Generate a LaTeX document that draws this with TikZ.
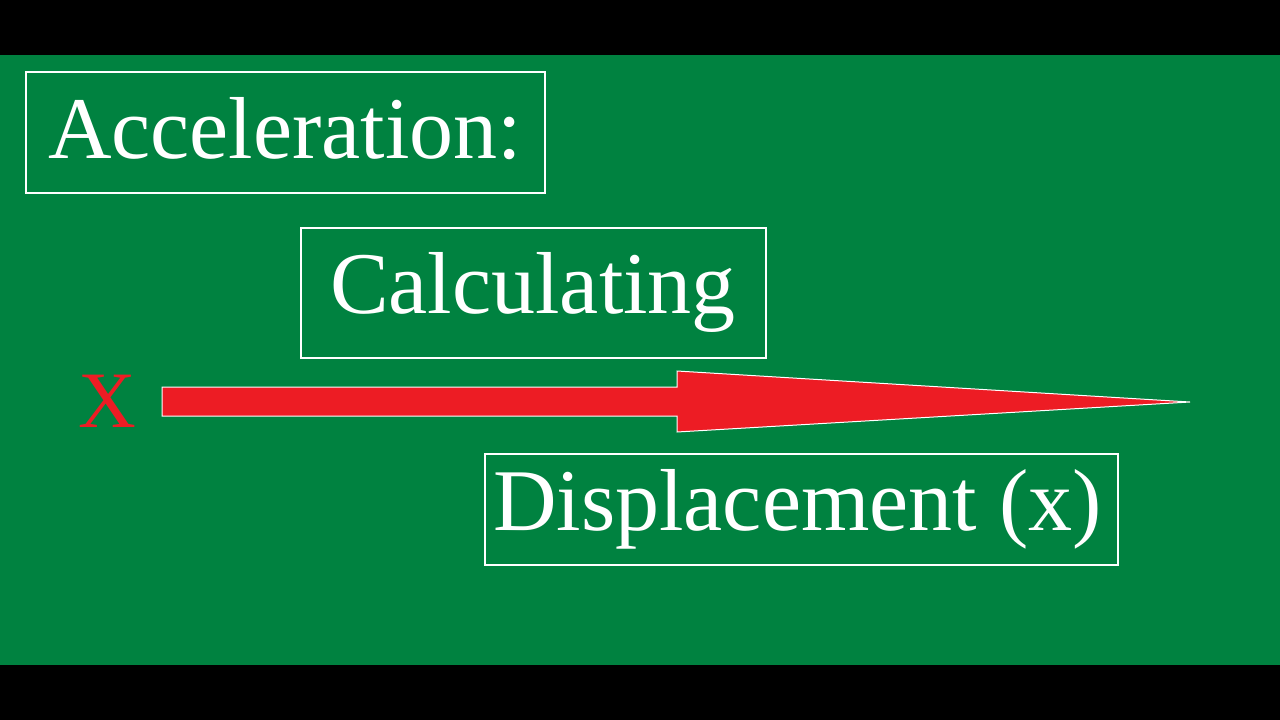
\documentclass[tikz,border=0pt]{standalone}
\usepackage{fontspec}
\setmainfont{Liberation Serif}
\definecolor{bg}{RGB}{0,130,64}
\definecolor{ar}{RGB}{237,28,36}
\begin{document}
\begin{tikzpicture}[x=1pt,y=-1pt,
  box/.style={draw=white,line width=2pt},
  txt/.style={anchor=base west,inner sep=0pt,text=white,font=\fontsize{88}{88}\selectfont}]
\useasboundingbox (0,0) rectangle (1280,720);
\fill[black] (0,0) rectangle (1280,720);
\fill[bg] (0,55) rectangle (1280,665);
\draw[box] (26,72) rectangle (545,193);
\draw[box] (301,228) rectangle (766,358);
\draw[box] (485,454) rectangle (1118,565);
\node[txt] (acc) at (48,158) {Acceleration:};
\node[txt] (calc) at (330,313) {Calculating};
\node[txt] (disp) at (493,530) {Displacement (x)};
\draw[fill=ar,draw=white,line width=1pt] (162,387) -- (677,387) -- (677,371) -- (1190,402) -- (677,432) -- (677,416) -- (162,416) -- cycle;
\node[anchor=base west,inner sep=0pt,text=ar,font=\fontsize{80}{80}\selectfont] (xm) at (78,427) {X};
\end{tikzpicture}
\end{document}
